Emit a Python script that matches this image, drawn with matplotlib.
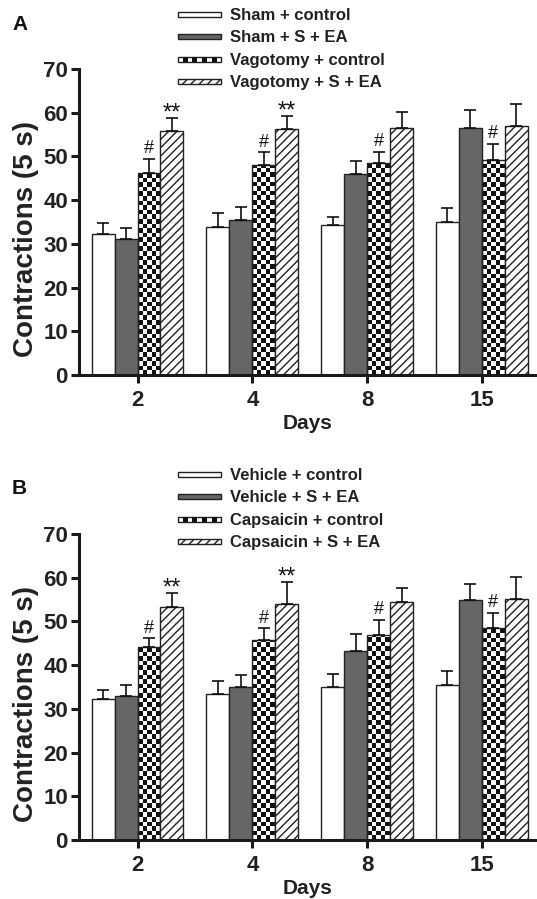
import numpy as np
import matplotlib
matplotlib.use("Agg")
import matplotlib.pyplot as plt
from matplotlib.colors import ListedColormap
from matplotlib.legend_handler import HandlerBase
from matplotlib.patches import Rectangle

plt.rcParams["font.family"] = ["Liberation Sans", "DejaVu Sans"]

days = ["2", "4", "8", "15"]

# panel A
labels_a = ["Sham + control", "Sham + S + EA", "Vagotomy + control", "Vagotomy + S + EA"]
sham_ctrl = [32.2, 33.9, 34.2, 35.0]
sham_ctrl_err = [2.5, 3.1, 1.9, 3.1]
sham_sea = [31.2, 35.5, 46.0, 56.5]
sham_sea_err = [2.5, 2.9, 3.0, 4.1]
vag_ctrl = [46.2, 48.1, 48.4, 49.1]
vag_ctrl_err = [3.2, 2.8, 2.7, 3.8]
vag_sea = [55.8, 56.2, 56.5, 57.0]
vag_sea_err = [2.9, 3.1, 3.7, 5.1]

# panel B
labels_b = ["Vehicle + control", "Vehicle + S + EA", "Capsaicin + control", "Capsaicin + S + EA"]
veh_ctrl = [32.2, 33.4, 34.9, 35.5]
veh_ctrl_err = [2.2, 2.9, 3.0, 3.1]
veh_sea = [33.0, 35.1, 43.2, 54.9]
veh_sea_err = [2.4, 2.7, 3.9, 3.6]
cap_ctrl = [44.1, 45.7, 46.9, 48.6]
cap_ctrl_err = [2.0, 2.7, 3.4, 3.4]
cap_sea = [53.4, 54.1, 54.5, 55.1]
cap_sea_err = [3.1, 4.9, 3.2, 5.0]

# significance marks: '#' on 3rd series, '**' on 4th series
hash_marks = [True, True, True, True]
star_marks = [True, True, False, False]

EDGE = "#222222"
GRAY = "#666666"
BAR_W = 0.2
CHECK = ListedColormap(["white", "#111111"])


def checker_fill(ax, rect, sx=0.04, sy=1.05):
    x0, y0 = rect.get_x(), rect.get_y()
    w, h = rect.get_width(), rect.get_height()
    nx = int(round(w / sx))
    ny = int(np.ceil(h / sy))
    arr = np.add.outer(np.arange(ny), np.arange(nx)) % 2
    im = ax.imshow(arr, cmap=CHECK, extent=(x0, x0 + w, y0, y0 + ny * sy),
                   origin="lower", interpolation="nearest", aspect="auto",
                   zorder=1.5)
    im.set_clip_path(rect)


class ThinBarHandler(HandlerBase):
    def __init__(self, checker=False):
        super().__init__()
        self.checker = checker

    def create_artists(self, legend, orig, xdescent, ydescent, width, height, fontsize, trans):
        h = height * 0.45
        y0 = -ydescent + (height - h) / 2
        x0 = -xdescent
        out = [Rectangle((x0, y0), width, h, facecolor=orig.get_facecolor()
                         if not self.checker else "white",
                         edgecolor=EDGE, lw=1.0, hatch=orig.get_hatch(), transform=trans)]
        if self.checker:
            ncol = 9
            cw = width / ncol
            for i in range(1, ncol, 2):
                out.append(Rectangle((x0 + i * cw, y0), cw, h, facecolor="#111111",
                                     edgecolor="none", transform=trans))
        return out


def panel(ax, series, errs, labels, letter, leg_xy):
    x = np.arange(len(days))
    styles = [dict(color="white"), dict(color=GRAY), dict(color="none"),
              dict(color="white", hatch="////")]
    handles = []
    for k, (vals, err) in enumerate(zip(series, errs)):
        pos = x + (k - 1.5) * BAR_W
        bars = ax.bar(pos, vals, BAR_W, edgecolor=EDGE, linewidth=1.0, zorder=2, **styles[k])
        ax.errorbar(pos, vals, yerr=[np.zeros(len(vals)), err], fmt="none",
                    ecolor="#111111", elinewidth=1.2, capsize=4.5, capthick=1.2, zorder=3)
        if k == 2:
            for r in bars:
                checker_fill(ax, r)
        handles.append(bars[0])
        if k == 2:
            for i in range(len(days)):
                if hash_marks[i]:
                    ax.text(pos[i], vals[i] + err[i] + 0.4, "#", ha="center", va="bottom",
                            fontsize=13, color="#111111")
        if k == 3:
            for i in range(len(days)):
                if star_marks[i]:
                    ax.text(pos[i], vals[i] + err[i] - 1.5, "**", ha="center", va="bottom",
                            fontsize=17, color="#111111")

    ax.set_xlim(-0.51, 3.48)
    ax.set_ylim(0, 70)
    ax.set_yticks(range(0, 71, 10))
    ax.set_xticks(x)
    ax.set_xticklabels(days)
    for s in ["top", "right"]:
        ax.spines[s].set_visible(False)
    for s in ["left", "bottom"]:
        ax.spines[s].set_linewidth(2.2)
        ax.spines[s].set_color("#1a1a1a")
    ax.tick_params(width=2.2, length=6, color="#1a1a1a", labelsize=16)
    ax.tick_params(axis="x", pad=5)
    ax.tick_params(axis="y", pad=2)
    for t in ax.get_xticklabels() + ax.get_yticklabels():
        t.set_fontweight("bold")
        t.set_color("#222222")
    ax.set_xlabel("Days", fontsize=15, fontweight="bold", color="#222222", labelpad=2)
    ax.set_ylabel("Contractions (5 s)", fontsize=20, fontweight="bold", color="#222222")
    ax.yaxis.set_label_coords(-0.088, 0.444)

    hmap = {h: ThinBarHandler(checker=(i == 2)) for i, h in enumerate(handles)}
    fig = ax.figure
    leg = fig.legend(handles, labels, handler_map=hmap, loc="upper left",
                     bbox_to_anchor=leg_xy, bbox_transform=fig.transFigure,
                     frameon=False, borderpad=0, borderaxespad=0, handlelength=2.6,
                     handletextpad=0.5, labelspacing=0.45,
                     prop=dict(size=12, weight="bold"))
    for t in leg.get_texts():
        t.set_color("#222222")
    fig.text(12 / 537, ax.get_position().y1 + (69 - 24) / 899, letter, fontsize=15,
             fontweight="bold", va="center", ha="left", color="#111111")


fig = plt.figure(figsize=(5.37, 8.99), dpi=100)
ax_a = fig.add_axes([79 / 537, 1 - 375 / 899, 1 - 79 / 537, 306 / 899])
ax_b = fig.add_axes([79 / 537, 1 - 840 / 899, 1 - 79 / 537, 306 / 899])

panel(ax_a, [sham_ctrl, sham_sea, vag_ctrl, vag_sea],
      [sham_ctrl_err, sham_sea_err, vag_ctrl_err, vag_sea_err],
      labels_a, "A", (178 / 537, 1 - 8 / 899))
panel(ax_b, [veh_ctrl, veh_sea, cap_ctrl, cap_sea],
      [veh_ctrl_err, veh_sea_err, cap_ctrl_err, cap_sea_err],
      labels_b, "B", (178 / 537, 1 - 468 / 899))

fig.savefig("out.png", dpi=100)
